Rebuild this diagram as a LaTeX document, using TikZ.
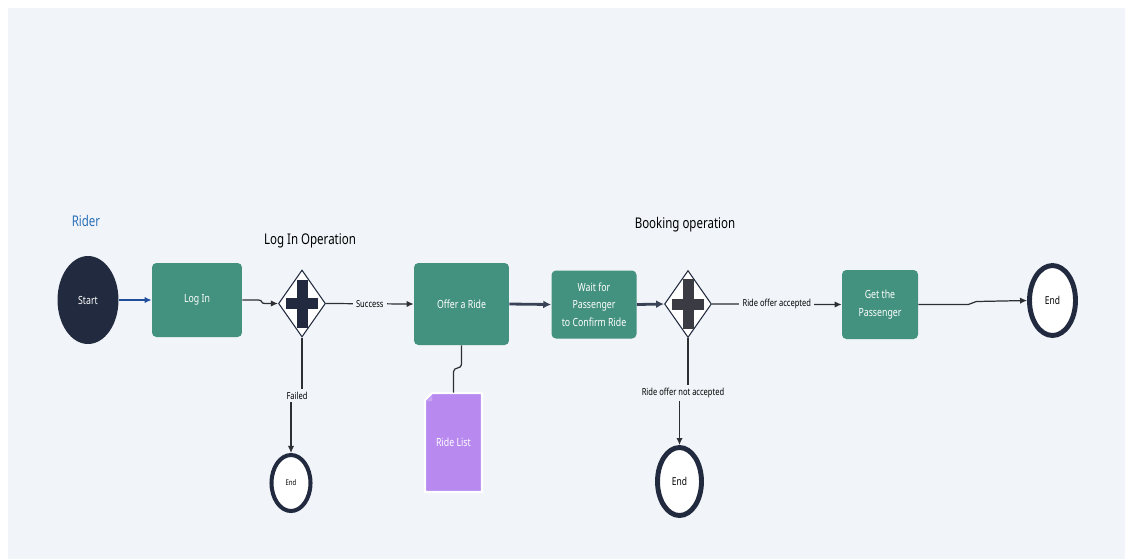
\documentclass[tikz,border=0pt]{standalone}
\usepackage{fontspec}
\setmainfont{Noto Sans}[FakeStretch=0.78]
\usetikzlibrary{shapes.geometric,arrows.meta,calc}

\definecolor{bgcol}{HTML}{F1F4F9}
\definecolor{tealbox}{HTML}{43917F}
\definecolor{navy}{HTML}{212A3E}
\definecolor{plusgrey}{HTML}{3B3C43}
\definecolor{purp}{HTML}{B88AF0}
\definecolor{riderblue}{HTML}{2D72B8}
\definecolor{startblue}{HTML}{1F4E9A}
\definecolor{linecol}{HTML}{2E2F33}
\definecolor{boldcol}{HTML}{3A4256}

\begin{document}
\begin{tikzpicture}[x=0.02cm,y=-0.02cm,
  task/.style={rectangle,rounded corners=2.5pt,fill=tealbox,text=white,align=center,inner sep=0pt,font=\fontsize{6.4}{10}\selectfont},
  gate/.style={diamond,draw=navy,fill=white,line width=0.6pt,minimum width=0.94cm,minimum height=1.34cm,inner sep=0pt},
  endev/.style={ellipse,draw=navy,fill=white,line width=2.8pt,inner sep=0pt,font=\fontsize{6.2}{7}\selectfont},
  title/.style={font=\fontsize{8.4}{10}\selectfont},
  lbl/.style={fill=bgcol,inner sep=1.8pt,font=\fontsize{5.5}{6}\selectfont},
  flow/.style={draw=linecol,line width=0.7pt,-{Latex[length=4pt,width=3.6pt]}},
  boldflow/.style={draw=boldcol,line width=1.6pt,-{Latex[length=4.5pt,width=4.5pt]}}
]
\useasboundingbox[fill=white] (0,0) rectangle (1125,559);
\fill[bgcol] (8,8) rectangle (1125,559);

% titles
\node[title,text=riderblue] (rider) at (86,221) {Rider};
\node[title] (logintitle) at (310,241) {Log In Operation};
\node[title] (booktitle) at (685,225) {Booking operation};

% events
\node (start) at (88,300) [ellipse,fill=navy,text=white,minimum width=1.22cm,minimum height=1.76cm,font=\fontsize{6.4}{8}\selectfont]{Start};
\node (end1) at (291,483) [endev,line width=2.3pt,minimum width=0.78cm,minimum height=1.12cm,font=\fontsize{4.4}{5}\selectfont]{End};
\node (end2) at (679.5,481.5) [endev,minimum width=0.88cm,minimum height=1.36cm]{End};
\node (end3) at (1052.5,300.5) [endev,minimum width=0.92cm,minimum height=1.40cm]{End};

% tasks
\node (login) at (197,300) [task,minimum width=1.8cm,minimum height=1.48cm]{Log In};
\node (offer) at (461.5,304) [task,minimum width=1.9cm,minimum height=1.64cm]{Offer a Ride};
\node (wait) at (594,304.5) [task,minimum width=1.7cm,minimum height=1.36cm]{Wait for\\Passenger\\to Confirm Ride};
\node (get) at (880,304.5) [task,minimum width=1.52cm,minimum height=1.38cm]{Get the\\Passenger};

% gateways
\node (g1) at (302,303.5) [gate]{};
\node (g2) at (688,304) [gate]{};
\fill[navy] ($(g1)+(-16,-5.5)$) rectangle ($(g1)+(16,5.5)$);
\fill[navy] ($(g1)+(-5.5,-24)$) rectangle ($(g1)+(5.5,24)$);
\fill[plusgrey] ($(g2)+(-16,-5.5)$) rectangle ($(g2)+(16,5.5)$);
\fill[plusgrey] ($(g2)+(-5.5,-25)$) rectangle ($(g2)+(5.5,25)$);

% data object
\draw[white,line width=1.2pt,fill=purp] (425,400) -- (432,393) -- (482,393) -- (482,492) -- (425,492) -- cycle;
\fill[purp!75!white] (427,401) -- (432,396) -- (432,401) -- cycle;
\node (rl) at (453.5,442.5) [text=white,minimum width=1.14cm,minimum height=1.98cm,inner sep=0pt,font=\fontsize{6.4}{8}\selectfont]{Ride List};

% connectors
\draw[flow,draw=startblue,line width=0.9pt] (start.east) -- (login.west);
\draw[flow] (login.east) -- ++(16,0) .. controls +(5,0) and +(-5,0) .. ($(g1.west)+(-13,0)$) -- (g1.west);
\draw[flow] (g1.east) -- node[lbl]{Success} (offer.west);
\draw[flow] (g1.south) -- ++(0,58) coordinate (f1) -| (end1.north);
\node[lbl] (failed) at ($(f1)+(-5,0)$) {Failed};
\draw[draw=linecol,line width=0.7pt] (offer.south) -- ++(0,19) .. controls +(0,5) and +(0,-5) .. ($(rl.north)+(0,-21)$) -- (rl.north);
\draw[boldflow] (offer.east) -- (wait.west);
\draw[boldflow] (wait.east) -- (g2.west);
\draw[flow] (g2.east) -- node[lbl]{Ride offer accepted} (get.west);
\draw[flow] (g2.south) -- ++(0,55) coordinate (f2) -| (end2.north);
\node[lbl] (notacc) at ($(f2)+(-5,0)$) {Ride offer not accepted};
\draw[flow] (get.east) -- ++(50,0) -- ++(8,-3) -- (end3.west);

\end{tikzpicture}
\end{document}
